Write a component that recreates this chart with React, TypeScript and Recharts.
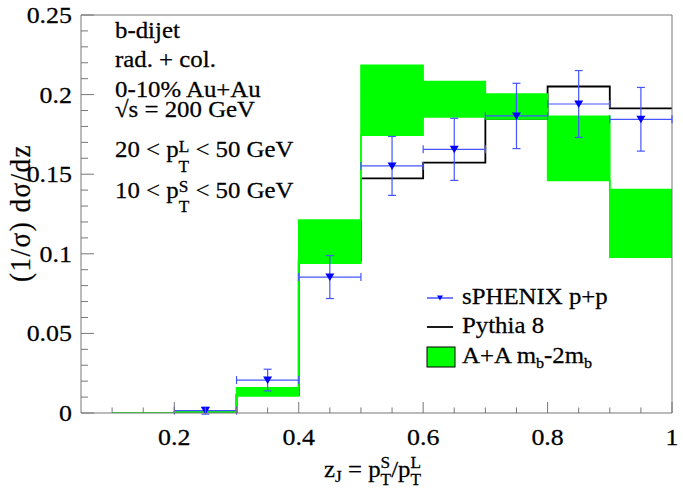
import React from "react";
import {
  Area,
  ComposedChart,
  ErrorBar,
  Legend,
  Line,
  ReferenceLine,
  Scatter,
  XAxis,
  YAxis,
} from "recharts";

// z_J bins (lower edges plus the closing edge at 1.0)
const binEdges = [0.1, 0.2, 0.3, 0.4, 0.5, 0.6, 0.7, 0.8, 0.9, 1.0];

// A+A band, m_b - 2m_b, lower / upper edge per bin
const aaLow = [0, 0.0005, 0.0107, 0.094, 0.1745, 0.186, 0.1847, 0.146, 0.0978];
const aaHigh = [0, 0.0009, 0.0159, 0.1212, 0.2185, 0.2083, 0.2004, 0.1864, 0.1404];

// Pythia 8 p+p, bins from 0.2 upward
const pythia = [0.0005, 0.0113, 0.096, 0.1474, 0.1573, 0.1847, 0.2051, 0.1913];

// sPHENIX p+p projection
const ppX = [0.25, 0.35, 0.45, 0.55, 0.65, 0.75, 0.85, 0.95];
const ppY = [0.0015, 0.0207, 0.0854, 0.1552, 0.1656, 0.1866, 0.1941, 0.1845];
const ppErrY = [0.0022, 0.0068, 0.0135, 0.0185, 0.0195, 0.0205, 0.021, 0.02];
const ppErrX = [0.05, 0.05, 0.05, 0.05, 0.05, 0.05, 0.05, 0.05];

const xTicks = [0.1, 0.15, 0.2, 0.25, 0.3, 0.35, 0.4, 0.45, 0.5, 0.55, 0.6, 0.65, 0.7, 0.75, 0.8, 0.85, 0.9, 0.95, 1.0];
const yTicks = Array.from({ length: 26 }, (_, i) => i / 100);

const FONT = "'Liberation Serif', 'Times New Roman', serif";
const SX = 1.08; // text is set slightly wide
const AXIS = "#777";
const PP_BLUE = "#0000ff";
const PP_ERR = "#4455ff";
const AA_GREEN = "#00ff00";

const bandRows = binEdges.map((x, i) => {
  const k = Math.min(i, aaLow.length - 1);
  return { x, band: [aaLow[k], aaHigh[k]] };
});
const pythiaEdges = binEdges.slice(1);
const pythiaRows = pythiaEdges.map((x, i) => ({ x, v: pythia[Math.min(i, pythia.length - 1)] }));
const ppRows = ppX.map((x, i) => ({ x, y: ppY[i], ey: ppErrY[i], ex: ppErrX[i] }));

const onStep = (v: number, step: number) => Math.abs(v / step - Math.round(v / step)) < 1e-6;
const fmt = (v: number) => String(Number(v.toFixed(2)));

function WideText({ x, y, size = 23, anchor = "start", children }: any) {
  return (
    <g transform={`translate(${x},${y}) scale(${SX},1)`}>
      <text
        x={0}
        y={0}
        fontSize={size}
        fontFamily={FONT}
        textAnchor={anchor}
        fill="#000"
        stroke="#000"
        strokeWidth={0.25}
      >
        {children}
      </text>
    </g>
  );
}

function XTick({ x, y, payload }: any) {
  const v = payload.value;
  const major = onStep(v, 0.2);
  return (
    <g>
      <line x1={x} x2={x} y1={y} y2={y - (major ? 11 : 5.5)} stroke={AXIS} />
      {major && (
        <WideText x={x} y={y + 32} size={24} anchor="middle">
          {fmt(v)}
        </WideText>
      )}
    </g>
  );
}

function YTick({ x, y, payload }: any) {
  const v = payload.value;
  const major = onStep(v, 0.05);
  return (
    <g>
      <line x1={x} x2={x + (major ? 13 : 7)} y1={y} y2={y} stroke={AXIS} />
      {major && (
        <WideText x={x - 9} y={y + 8} size={24} anchor="end">
          {fmt(v)}
        </WideText>
      )}
    </g>
  );
}

function DownTriangle({ cx, cy }: any) {
  if (cx == null || cy == null) return null;
  return <polygon points={`${cx - 4.5},${cy - 3.5} ${cx + 4.5},${cy - 3.5} ${cx},${cy + 4}`} fill={PP_BLUE} />;
}

function LegendBox() {
  return (
    <svg width={240} height={95}>
      <line x1={7} x2={33} y1={18} y2={18} stroke={PP_ERR} strokeWidth={1.5} />
      <polygon points="17,15.5 23,15.5 20,20.5" fill={PP_BLUE} />
      <WideText x={42} y={24}>sPHENIX p+p</WideText>
      <line x1={7} x2={33} y1={47} y2={47} stroke="#000" strokeWidth={1.8} />
      <WideText x={42} y={53}>Pythia 8</WideText>
      <rect x={7} y={67} width={28} height={20} fill={AA_GREEN} stroke="#000" strokeWidth={1} />
      <WideText x={42} y={83}>
        A+A m<tspan fontSize={15} dy={5}>b</tspan>
        <tspan dy={-5}>-2m</tspan>
        <tspan fontSize={15} dy={5}>b</tspan>
      </WideText>
    </svg>
  );
}

export default function App() {
  return (
    <div style={{ position: "absolute", left: 0, top: 0, width: 683, height: 490, background: "#fff" }}>
      <ComposedChart width={683} height={490} margin={{ top: 15, right: 11, left: 20, bottom: 17 }}>
        <XAxis
          dataKey="x"
          type="number"
          domain={[0.05, 1]}
          ticks={xTicks}
          interval={0}
          allowDataOverflow
          height={60}
          stroke={AXIS}
          tickLine={false}
          tickSize={0}
          tickMargin={0}
          tick={<XTick />}
        />
        <YAxis
          type="number"
          domain={[0, 0.25]}
          ticks={yTicks}
          interval={0}
          allowDataOverflow
          width={61}
          stroke={AXIS}
          tickLine={false}
          tickSize={0}
          tickMargin={0}
          tick={<YTick />}
        />
        <ReferenceLine y={0.25} stroke={AXIS} />
        <ReferenceLine x={1} stroke={AXIS} />
        <Line
          data={pythiaRows}
          dataKey="v"
          type="stepAfter"
          stroke="#000"
          strokeWidth={1.8}
          dot={false}
          zIndex={50}
          isAnimationActive={false}
        />
        <Area
          data={bandRows}
          dataKey="band"
          type="stepAfter"
          fill={AA_GREEN}
          fillOpacity={1}
          stroke={AA_GREEN}
          strokeWidth={1.5}
          zIndex={100}
          isAnimationActive={false}
        />
        <Scatter data={ppRows} dataKey="y" shape={<DownTriangle />} zIndex={600} isAnimationActive={false}>
          <ErrorBar dataKey="ex" direction="x" width={4} stroke={PP_ERR} strokeWidth={1.2} isAnimationActive={false} />
          <ErrorBar dataKey="ey" direction="y" width={4} stroke={PP_ERR} strokeWidth={1.2} isAnimationActive={false} />
        </Scatter>
        <Legend
          layout="vertical"
          align="center"
          verticalAlign="middle"
          wrapperStyle={{ left: 420, top: 280, width: 240, height: 95 }}
          content={() => <LegendBox />}
        />
      </ComposedChart>

      <svg
        width={683}
        height={490}
        style={{ position: "absolute", left: 0, top: 0, pointerEvents: "none" }}
      >
        <WideText x={115} y={38}>b-dijet</WideText>
        <WideText x={115} y={67}>rad. + col.</WideText>
        <WideText x={115} y={97}>0-10% Au+Au</WideText>
        <WideText x={115} y={117}>√s = 200 GeV</WideText>
        <WideText x={115} y={157}>
          {"20 < p"}
          <tspan fontSize={16} dy={-5}>L</tspan>
          <tspan fontSize={16} dx={-9.8} dy={20}>T</tspan>
          <tspan dy={-15}>{" < 50 GeV"}</tspan>
        </WideText>
        <WideText x={115} y={198}>
          {"10 < p"}
          <tspan fontSize={16} dy={-6}>S</tspan>
          <tspan fontSize={16} dx={-8.9} dy={20}>T</tspan>
          <tspan dy={-14}>{" < 50 GeV"}</tspan>
        </WideText>

        <g transform={`translate(30,213) scale(${SX},1) rotate(-90)`}>
          <text
            x={0}
            y={0}
            fontSize={27}
            fontFamily={FONT}
            textAnchor="middle"
            letterSpacing={1.5}
            stroke="#000"
            strokeWidth={0.2}
          >
            (1/σ) dσ/dz
          </text>
        </g>

        <WideText x={324} y={477}>
          z<tspan fontSize={16} dy={5}>J</tspan>
          <tspan dy={-5}>{" = p"}</tspan>
          <tspan fontSize={16} dy={-9}>S</tspan>
          <tspan fontSize={16} dx={-8.9} dy={17}>T</tspan>
          <tspan dy={-8}>/p</tspan>
          <tspan fontSize={16} dy={-9}>L</tspan>
          <tspan fontSize={16} dx={-9.8} dy={17}>T</tspan>
        </WideText>
      </svg>
    </div>
  );
}
